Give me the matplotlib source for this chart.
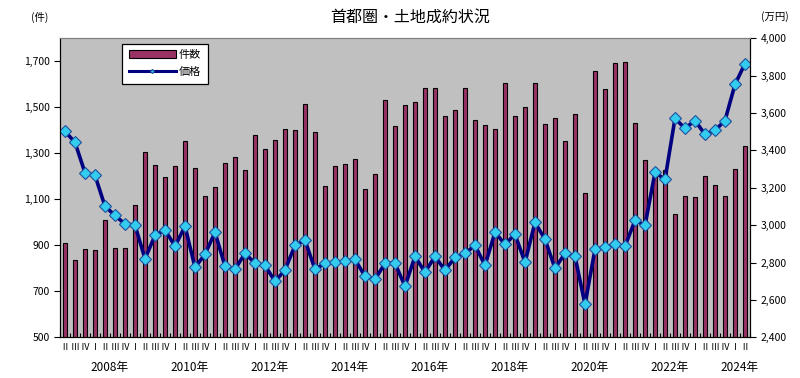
import matplotlib

matplotlib.use("Agg")
import matplotlib.pyplot as plt
from matplotlib.ticker import FuncFormatter, FixedLocator
from matplotlib.transforms import blended_transform_factory

plt.rcParams["font.family"] = ["Noto Sans CJK JP", "DejaVu Sans"]

# quarters from 2007 II to 2024 II
quarter_labels = ["Ⅱ", "Ⅲ", "Ⅳ"] + ["Ⅰ", "Ⅱ", "Ⅲ", "Ⅳ"] * 16 + ["Ⅰ", "Ⅱ"]
first_year = 2007
first_quarter = 2
year_labels = ["2008年", "2010年", "2012年", "2014年", "2016年", "2018年", "2020年", "2022年", "2024年"]

# 件数 (left axis)
counts = [
    910, 836, 883, 878,
    1009, 887, 887, 1075, 1304, 1248, 1197, 1243, 1352, 1235, 1114, 1153,
    1257, 1283, 1226, 1378, 1319, 1357, 1404, 1401, 1513, 1391, 1157, 1243,
    1252, 1274, 1143, 1209, 1530, 1417, 1509, 1522, 1583, 1583, 1461, 1487,
    1583, 1443, 1422, 1404, 1604, 1461, 1500, 1604, 1426, 1452, 1352, 1470,
    1126, 1657, 1578, 1691, 1696, 1430, 1270, 1218, 1226, 1036, 1114, 1109,
    1201, 1162, 1114, 1232, 1330,
]

# 価格 (right axis, 万円)
prices = [
    3502, 3443, 3280, 3266,
    3101, 3052, 3006, 3000, 2820, 2945, 2975, 2887, 2994, 2774, 2844, 2962,
    2780, 2764, 2849, 2796, 2785, 2699, 2760, 2892, 2919, 2764, 2796, 2801,
    2806, 2817, 2726, 2710, 2796, 2796, 2673, 2833, 2748, 2833, 2758, 2828,
    2849, 2892, 2785, 2962, 2897, 2951, 2801, 3015, 2924, 2769, 2849, 2833,
    2576, 2871, 2881, 2897, 2887, 3026, 2999, 3282, 3245, 3571, 3518, 3560,
    3486, 3507, 3560, 3753, 3865,
]


def main() -> None:
    n = len(counts)
    xs = list(range(n))

    fig = plt.figure(figsize=(8, 3.78), dpi=100)
    ax = fig.add_axes([0.075, 0.1077, 0.8625, 0.791])
    ax.set_facecolor("#C0C0C0")

    bars = ax.bar(xs, counts, width=0.4, color="#993366", edgecolor="black",
                  linewidth=0.8, label="件数", zorder=2)
    ax.set_xlim(-0.5, n - 0.5)
    ax.set_ylim(500, 1800)
    ax.yaxis.set_major_locator(FixedLocator(range(500, 1701, 200)))
    ax.yaxis.set_major_formatter(FuncFormatter(lambda v, p: f"{int(v):,}"))

    # category boundaries as ticks, quarter names as minor labels
    ax.set_xticks([i - 0.5 for i in range(n + 1)])
    ax.set_xticklabels([])
    ax.tick_params(axis="x", which="major", direction="in", length=3, width=0.8)
    ax.set_xticks(xs, minor=True)
    ax.set_xticklabels(quarter_labels, minor=True, fontsize=6.5)
    ax.tick_params(axis="x", which="minor", length=0, pad=4)
    ax.tick_params(axis="y", direction="out", length=4, labelsize=7.5)

    ax.spines["top"].set_color("#808080")
    for s in ("left", "bottom", "right"):
        ax.spines[s].set_color("black")

    ax2 = ax.twinx()
    line, = ax2.plot(xs, prices, color="#000080", linewidth=2.6, marker="D",
                     markersize=6, markerfacecolor="#33CCEE",
                     markeredgecolor="#1F4F9F", markeredgewidth=0.8, label="価格")
    ax2.set_ylim(2400, 4000)
    ax2.yaxis.set_major_locator(FixedLocator(range(2400, 4001, 200)))
    ax2.yaxis.set_major_formatter(FuncFormatter(lambda v, p: f"{int(v):,}"))
    ax2.tick_params(axis="y", direction="out", length=4, labelsize=7.5)
    ax2.spines["top"].set_color("#808080")

    # year labels centred under each year's quarters
    trans = blended_transform_factory(ax.transData, ax.transAxes)
    for lab in year_labels:
        yr = int(lab[:4])
        idx = [i for i in xs if first_year + (i + first_quarter - 1) // 4 == yr]
        ax.text((idx[0] + idx[-1]) / 2, -0.102, lab, transform=trans,
                ha="center", va="center", fontsize=8.5)

    leg = ax2.legend([bars, line], ["件数", "価格"], loc="upper left",
                     bbox_to_anchor=(0.087, 0.99), fancybox=False,
                     edgecolor="black", framealpha=1, fontsize=8,
                     handlelength=4.2, borderpad=0.6, labelspacing=0.6,
                     handletextpad=0.3, markerscale=0.35, borderaxespad=0.2)
    leg.get_frame().set_linewidth(0.9)
    leg.get_lines()[0].set_linewidth(2.2)

    fig.text(0.512, 0.955, "首都圏・土地成約状況", ha="center", va="center", fontsize=11.5)
    fig.text(0.05, 0.955, "(件)", ha="center", va="center", fontsize=7.5)
    fig.text(0.968, 0.955, "(万円)", ha="center", va="center", fontsize=7.5)

    fig.savefig("out.png", dpi=100)
    plt.close(fig)


if __name__ == "__main__":
    main()
